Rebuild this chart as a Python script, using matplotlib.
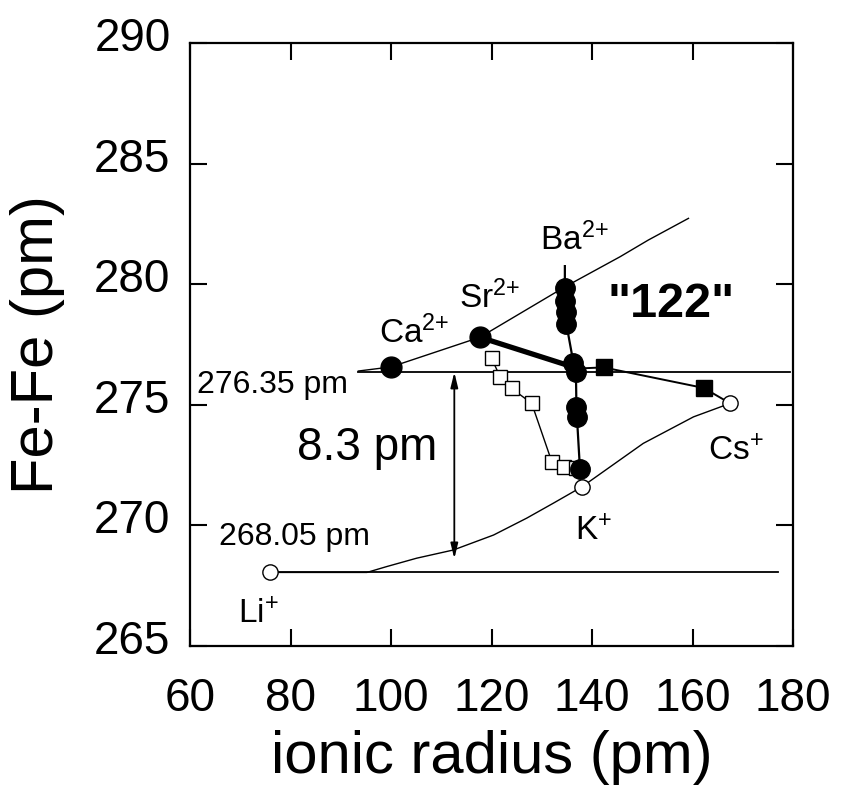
import matplotlib
matplotlib.use("Agg")
import matplotlib.pyplot as plt
from matplotlib.transforms import ScaledTranslation

plt.rcParams["font.family"] = ["Liberation Sans", "DejaVu Sans"]
plt.rcParams["mathtext.fontset"] = "custom"
plt.rcParams["mathtext.rm"] = "Liberation Sans"
plt.rcParams["mathtext.it"] = "Liberation Sans:italic"
plt.rcParams["mathtext.bf"] = "Liberation Sans:bold"

# ── datos ─────────────────────────────────────────────────
# curva inferior (Li+ -> K+ -> Cs+)
lower_x = [76.0, 95.2, 99.1, 105.1, 112.4, 120.4, 127.0, 132.3, 138.0, 150.2, 160.2, 167.5]
lower_y = [268.05, 268.05, 268.29, 268.64, 268.98, 269.60, 270.30, 270.92, 271.60, 273.40, 274.50, 275.06]
open_circ_x = [76.0, 138.0, 167.5]
open_circ_y = [268.05, 271.60, 275.06]

# curva superior (Ca2+ -> Sr2+ -> Ba2+)
upper_x = [93.5, 100.0, 117.7, 134.7, 145.6, 151.2, 159.2]
upper_y = [276.40, 276.57, 277.80, 279.90, 281.14, 281.83, 282.73]
ae_x = [100.0, 117.7]
ae_y = [276.57, 277.80]

# línea gruesa Sr -> centro
thick_x = [117.7, 136.5]
thick_y = [277.80, 276.55]

# serie vertical (círculos llenos)
vert_x = [134.6, 134.6, 134.7, 134.8, 134.9, 136.3, 136.8, 136.9, 137.0, 137.6]
vert_y = [280.75, 279.85, 279.30, 278.85, 278.35, 276.75, 276.35, 274.90, 274.50, 272.35]

# cuadrados abiertos
sq_x = [120.0, 121.7, 124.0, 128.0, 132.0, 134.4, 136.8]
sq_y = [276.93, 276.17, 275.68, 275.06, 272.64, 272.43, 272.38]

# cuadrados llenos (hacia Cs+)
fsq_x = [136.6, 142.3, 162.2, 167.5]
fsq_y = [276.50, 276.55, 275.70, 275.06]

# líneas de referencia
ref_levels = [276.35, 268.05]
ref_start = [93.4, 76.0]
ref_end = [179.4, 177.0]
gap_x = 112.6
gap_bottom = 268.62

ion_labels = [r"Ca$^{\mathregular{2{+}}}$", r"Sr$^{\mathregular{2{+}}}$", r"Ba$^{\mathregular{2{+}}}$",
              r"Cs$^{\mathregular{+}}$", r"K$^{\mathregular{+}}$", r"Li$^{\mathregular{+}}$"]
ion_x = [97.6, 113.6, 129.65, 163.1, 136.6, 69.55]
ion_y = [277.56, 279.01, 281.42, 272.71, 269.39, 265.95]

x_ticks = [60, 80, 100, 120, 140, 160, 180]
y_ticks = [265, 270, 275, 280, 285, 290]

fig = plt.figure(figsize=(8.43, 7.87), dpi=100)
ax = fig.add_axes([190 / 843, 141 / 787, 603 / 843, 603 / 787])

# referencias horizontales
for lvl, x0, x1 in zip(ref_levels, ref_start, ref_end):
    ax.plot([x0, x1], [lvl, lvl], color="black", lw=1.3, zorder=1)

# curvas finas
ax.plot(lower_x, lower_y, color="black", lw=1.0, zorder=2)
ax.plot(upper_x, upper_y, color="black", lw=1.0, zorder=2)
ax.plot(thick_x, thick_y, color="black", lw=3.8, zorder=3)

ax.plot(sq_x, sq_y, color="black", lw=1.0, marker="s", ms=10.5,
        mfc="white", mec="black", mew=1.0, zorder=3)
ax.plot(fsq_x, fsq_y, color="black", lw=1.4, marker="s", ms=12,
        mfc="black", mec="black", markevery=[1, 2], zorder=3)
ax.plot(vert_x, vert_y, color="black", lw=1.6, marker="o", ms=14,
        mfc="black", mec="black", markevery=list(range(1, len(vert_x))), zorder=4)
ax.plot(ae_x, ae_y, ls="none", marker="o", ms=15, mfc="black", mec="black", zorder=4)
ax.plot(open_circ_x, open_circ_y, ls="none", marker="o", ms=11,
        mfc="white", mec="black", mew=1.0, zorder=5)

# flecha doble 8.3 pm
ax.annotate("", xy=(gap_x, ref_levels[0]), xytext=(gap_x, gap_bottom),
            arrowprops=dict(arrowstyle="<|-|>,head_length=0.9,head_width=0.22",
                            color="black", lw=1.3, shrinkA=0, shrinkB=0),
            zorder=2)

# textos
for txt, tx, ty in zip(ion_labels, ion_x, ion_y):
    ax.text(tx, ty, txt, fontsize=24, ha="left", va="baseline")
ax.text(61.4, 275.49, "276.35 pm", fontsize=23, ha="left", va="baseline")
ax.text(65.8, 269.19, "268.05 pm", fontsize=23, ha="left", va="baseline")
ax.text(81.3, 272.71, "8.3 pm", fontsize=33, ha="left", va="baseline")
ax.text(143.0, 278.64, '"122"', fontsize=35, fontweight="bold", ha="left", va="baseline")

ax.set_xlim(60, 180)
ax.set_ylim(265, 290)
ax.set_xticks(x_ticks)
ax.set_yticks(y_ticks)
ax.tick_params(direction="in", length=12, width=1.5, top=True, right=True,
               labelsize=33)
ax.tick_params(axis="x", pad=22)
ax.tick_params(axis="y", pad=14)
for spine in ax.spines.values():
    spine.set_linewidth(1.6)

offset = ScaledTranslation(0, 9 / 100, fig.dpi_scale_trans)
for lab in ax.get_yticklabels():
    lab.set_transform(lab.get_transform() + offset)

ax.set_xlabel("ionic radius (pm)", fontsize=43)
ax.set_ylabel("Fe-Fe (pm)", fontsize=43)
ax.xaxis.set_label_coords(0.5, -0.14)
ax.yaxis.set_label_coords(-0.207, 0.5)

fig.savefig("out.png", dpi=100)
